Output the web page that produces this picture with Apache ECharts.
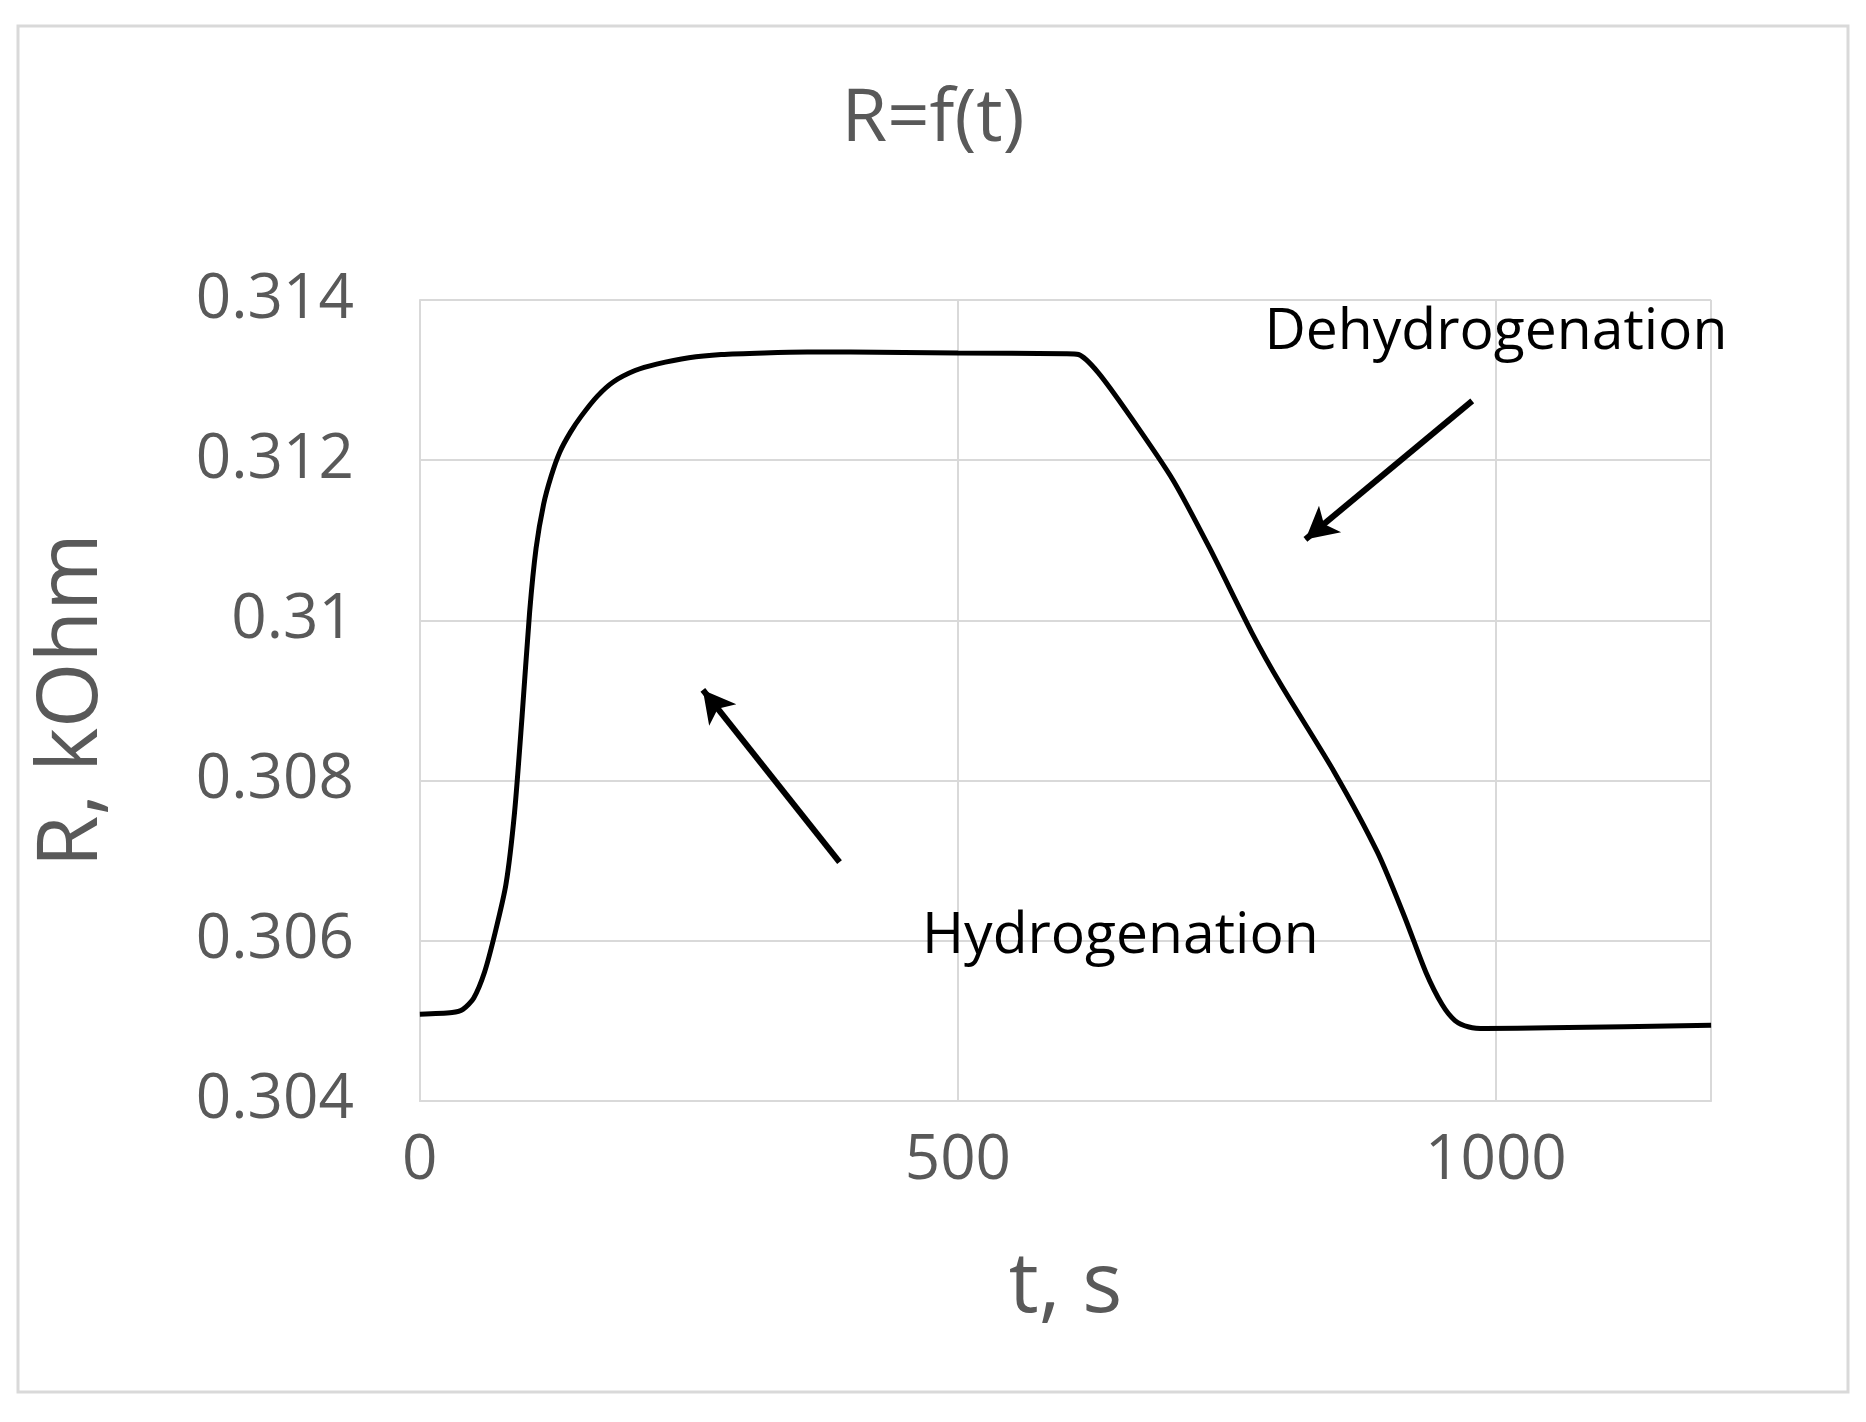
<!DOCTYPE html>
<html><head><meta charset="utf-8">
<script src="https://cdn.jsdelivr.net/npm/echarts@6/dist/echarts.min.js"></script>
<style>html,body{margin:0;padding:0;background:#fff}#c{width:1866px;height:1422px}</style>
</head><body><div id="c"></div>
<script>
const tValues = [0,30,40,50,60,70,80,88,95,102,108,115,122,130,140,150,165,180,200,220,250,280,320,360,400,500,600,612,630,660,700,734,773,800,850,890,915,935,950,962,975,990,1050,1200];
const rValues = [0.30508,0.30510,0.30514,0.30528,0.30560,0.30610,0.30670,0.30760,0.30880,0.31010,0.31090,0.31145,0.31180,0.31210,0.31235,0.31255,0.31280,0.31298,0.31312,0.31320,0.31328,0.31332,0.31334,0.31335,0.31335,0.31334,0.31333,0.31332,0.31310,0.31255,0.31175,0.31090,0.30985,0.30920,0.30810,0.30710,0.30630,0.30560,0.30520,0.30500,0.30492,0.30490,0.30491,0.30494];
const xTicks = {min:0,max:1200,interval:500};
const yTicks = {min:0.304,max:0.314,interval:0.002};
const annotations = [
  {text:'Dehydrogenation', t:1000, r:0.31359},
  {text:'Hydrogenation', t:651, r:0.30605}
];
const arrows = [
  {from:[390,0.30698], to:[263,0.30913]},
  {from:[978,0.31274], to:[823,0.31101]}
];
const chart = echarts.init(document.getElementById('c'));
const font = '"Open Sans", "Liberation Sans", sans-serif';
chart.setOption({
  animation:false,
  graphic:[{type:'rect',shape:{x:18,y:26,width:1830,height:1366},style:{fill:'none',stroke:'#d9d9d9',lineWidth:3}}],
  title:{text:'R=f(t)',left:'center',top:78,textStyle:{fontFamily:font,fontSize:74,fontWeight:'normal',color:'#595959'}},
  grid:{left:'22.5%',right:'8.3%',top:'21.1%',bottom:'22.6%'},
  xAxis:{type:'value',min:xTicks.min,max:xTicks.max,interval:xTicks.interval,
    name:'t, s',nameLocation:'middle',nameGap:145,nameTextStyle:{fontFamily:font,fontSize:84,color:'#595959'},
    axisLine:{lineStyle:{color:'#d9d9d9',width:2}},axisTick:{show:false},
    axisLabel:{fontFamily:font,fontSize:62,color:'#595959',margin:30,showMaxLabel:false,formatter:v=>String(v)},
    splitLine:{show:true,lineStyle:{color:'#d9d9d9',width:2}}},
  yAxis:{type:'value',min:yTicks.min,max:yTicks.max,interval:yTicks.interval,
    name:'R, kOhm',nameLocation:'middle',nameGap:305,nameTextStyle:{fontFamily:font,fontSize:84,color:'#595959'},
    axisLine:{show:true,lineStyle:{color:'#d9d9d9',width:2}},axisTick:{show:false},
    axisLabel:{fontFamily:font,fontSize:62,color:'#595959',margin:66,formatter:v=>String(+v.toFixed(3))},
    splitLine:{show:true,lineStyle:{color:'#d9d9d9',width:2}}},
  series:[{type:'line',data:tValues.map((t,i)=>[t,rValues[i]]),smooth:0.25,symbol:'none',
    lineStyle:{color:'#000',width:5},
    markPoint:{symbolSize:0,data:annotations.map(a=>({coord:[a.t,a.r],value:a.text,
      label:{show:true,formatter:a.text,position:'inside',fontFamily:font,fontSize:57,color:'#000'}}))},
    markLine:{silent:true,symbol:['none','arrow'],symbolSize:[26,32],lineStyle:{color:'#000',width:6,type:'solid'},label:{show:false},
      data:arrows.map(a=>[{coord:a.from},{coord:a.to}])}
  }]
});
</script></body></html>
